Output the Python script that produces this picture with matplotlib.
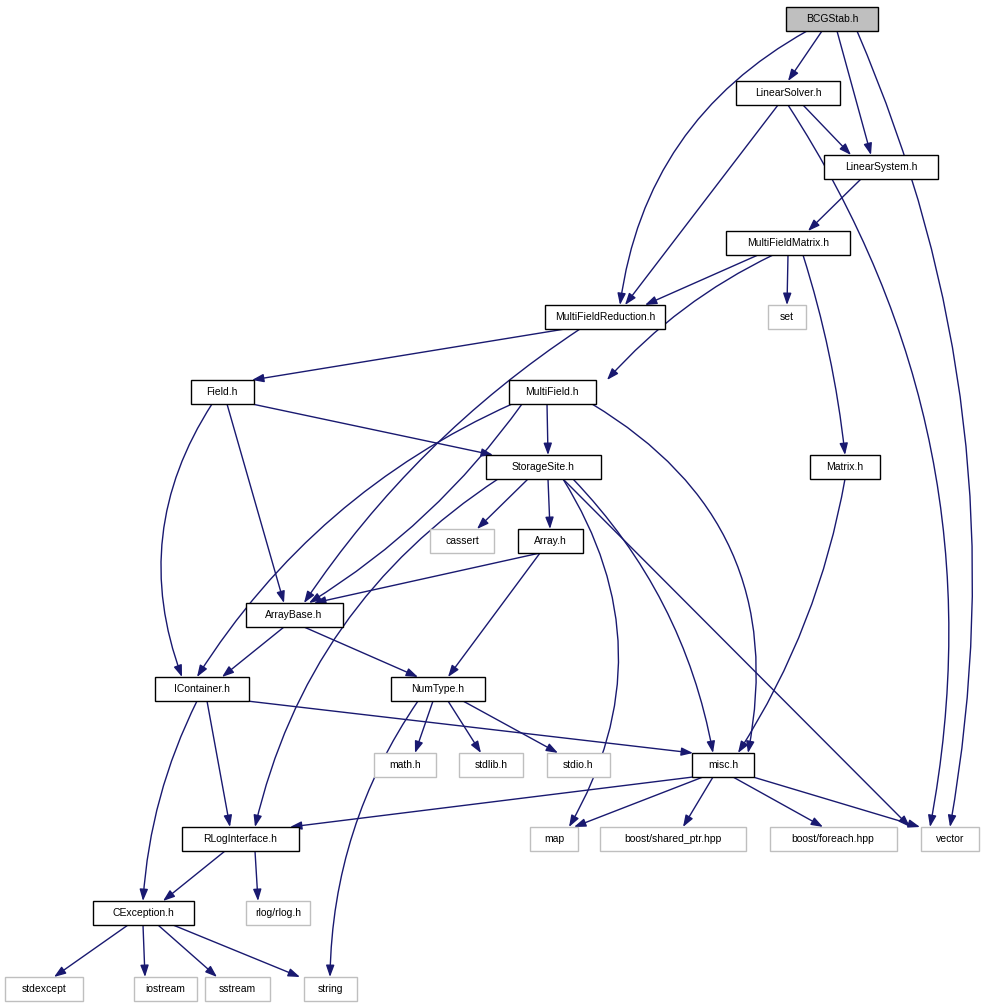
import matplotlib
matplotlib.use("Agg")
import matplotlib.pyplot as plt
from matplotlib.patches import Rectangle

# name: (cx, cy, width, kind)  kind: 0 normal, 1 root, 2 external
nodes = {
 "BCGStab.h": (832, 19, 92, 1),
 "LinearSolver.h": (788, 93, 104, 0),
 "LinearSystem.h": (881, 167, 114, 0),
 "MultiFieldMatrix.h": (788, 243, 124, 0),
 "MultiFieldReduction.h": (605, 317, 120, 0),
 "set": (787, 317, 38, 2),
 "Field.h": (222, 392, 63, 0),
 "MultiField.h": (552, 392, 87, 0),
 "StorageSite.h": (543, 467, 115, 0),
 "Matrix.h": (845, 467, 70, 0),
 "cassert": (462, 541, 64, 2),
 "Array.h": (550, 541, 65, 0),
 "ArrayBase.h": (294, 615, 97, 0),
 "IContainer.h": (202, 689, 94, 0),
 "NumType.h": (438, 689, 94, 0),
 "math.h": (405, 765, 62, 2),
 "stdlib.h": (491, 765, 64, 2),
 "stdio.h": (578, 765, 63, 2),
 "misc.h": (723, 765, 62, 0),
 "RLogInterface.h": (240, 839, 117, 0),
 "map": (554, 839, 48, 2),
 "boost/shared_ptr.hpp": (673, 839, 146, 2),
 "boost/foreach.hpp": (833, 839, 127, 2),
 "vector": (950, 839, 58, 2),
 "CException.h": (143, 913, 101, 0),
 "rlog/rlog.h": (278, 913, 64, 2),
 "stdexcept": (44, 989, 78, 2),
 "iostream": (165, 989, 63, 2),
 "sstream": (237, 989, 65, 2),
 "string": (330, 989, 53, 2),
}
# (src, dst, rad, src_dx, dst_dx)
edges = [
 ("BCGStab.h", "LinearSolver.h", 0, -10, 0),
 ("BCGStab.h", "LinearSystem.h", 0, 5, -10),
 ("BCGStab.h", "MultiFieldReduction.h", 0.25, -25, 15),
 ("BCGStab.h", "vector", -0.15, 25, 0),
 ("LinearSolver.h", "LinearSystem.h", 0, 15, -30),
 ("LinearSolver.h", "MultiFieldReduction.h", 0, -10, 20),
 ("LinearSolver.h", "vector", -0.2, 0, -20),
 ("LinearSystem.h", "MultiFieldMatrix.h", 0, -20, 20),
 ("MultiFieldMatrix.h", "MultiFieldReduction.h", 0, -30, 40),
 ("MultiFieldMatrix.h", "set", 0, 0, 0),
 ("MultiFieldMatrix.h", "MultiField.h", 0.1, -15, 55),
 ("MultiFieldMatrix.h", "Matrix.h", -0.05, 15, 0),
 ("MultiFieldReduction.h", "Field.h", 0, -40, 30),
 ("MultiFieldReduction.h", "ArrayBase.h", 0.1, -25, 10),
 ("Field.h", "StorageSite.h", 0, 30, -50),
 ("Field.h", "ArrayBase.h", 0, 5, -10),
 ("Field.h", "IContainer.h", 0.25, -10, -20),
 ("MultiField.h", "StorageSite.h", 0, -5, 5),
 ("MultiField.h", "ArrayBase.h", -0.1, -30, 15),
 ("MultiField.h", "IContainer.h", 0.15, -40, -5),
 ("MultiField.h", "misc.h", -0.35, 40, 25),
 ("StorageSite.h", "cassert", 0, -15, 15),
 ("StorageSite.h", "Array.h", 0, 5, 0),
 ("StorageSite.h", "RLogInterface.h", 0.2, -45, 15),
 ("StorageSite.h", "map", -0.3, 20, 15),
 ("StorageSite.h", "misc.h", -0.15, 30, -10),
 ("StorageSite.h", "vector", 0, 20, -40),
 ("Matrix.h", "misc.h", -0.1, 0, 15),
 ("Array.h", "ArrayBase.h", 0, -10, 20),
 ("Array.h", "NumType.h", 0, -10, 10),
 ("ArrayBase.h", "IContainer.h", 0, -10, 20),
 ("ArrayBase.h", "NumType.h", 0, 10, -20),
 ("IContainer.h", "misc.h", 0, 45, -30),
 ("IContainer.h", "RLogInterface.h", 0, 5, -10),
 ("IContainer.h", "CException.h", 0.1, -5, 0),
 ("NumType.h", "math.h", 0, -5, 10),
 ("NumType.h", "stdlib.h", 0, 10, -10),
 ("NumType.h", "stdio.h", 0, 25, -20),
 ("NumType.h", "string", 0.15, -20, 0),
 ("misc.h", "RLogInterface.h", 0, -30, 50),
 ("misc.h", "map", 0, -20, 20),
 ("misc.h", "boost/shared_ptr.hpp", 0, -10, 10),
 ("misc.h", "boost/foreach.hpp", 0, 10, -10),
 ("misc.h", "vector", 0, 30, -30),
 ("RLogInterface.h", "CException.h", 0, -15, 20),
 ("RLogInterface.h", "rlog/rlog.h", 0, 15, -20),
 ("CException.h", "stdexcept", 0, -15, 10),
 ("CException.h", "iostream", 0, 0, -20),
 ("CException.h", "sstream", 0, 15, -20),
 ("CException.h", "string", 0, 30, -30),
]

H = 24
fig = plt.figure(figsize=(9.85, 10.08), dpi=100)
ax = fig.add_axes([0, 0, 1, 1])
ax.set_xlim(0, 985); ax.set_ylim(1008, 0); ax.axis("off")
navy = "#191970"
for s, d, rad, sdx, ddx in edges:
    sx, sy, _, _ = nodes[s]; dx, dy, _, _ = nodes[d]
    ax.annotate("", xy=(dx + ddx, dy - H/2), xytext=(sx + sdx, sy + H/2),
                arrowprops=dict(arrowstyle="-|>,head_length=0.7,head_width=0.25", color=navy, lw=1.0,
                                shrinkA=0, shrinkB=0, connectionstyle=f"arc3,rad={rad}"))
for n, (cx, cy, w, k) in nodes.items():
    fc = "#bfbfbf" if k == 1 else "white"
    ec = "#bfbfbf" if k == 2 else "black"
    ax.add_patch(Rectangle((cx - w/2, cy - H/2), w, H, fc=fc, ec=ec, lw=1.0, zorder=3))
    ax.text(cx, cy, n, ha="center", va="center", fontsize=7.5, family="Liberation Sans", zorder=4)
fig.savefig("out.png", dpi=100)
